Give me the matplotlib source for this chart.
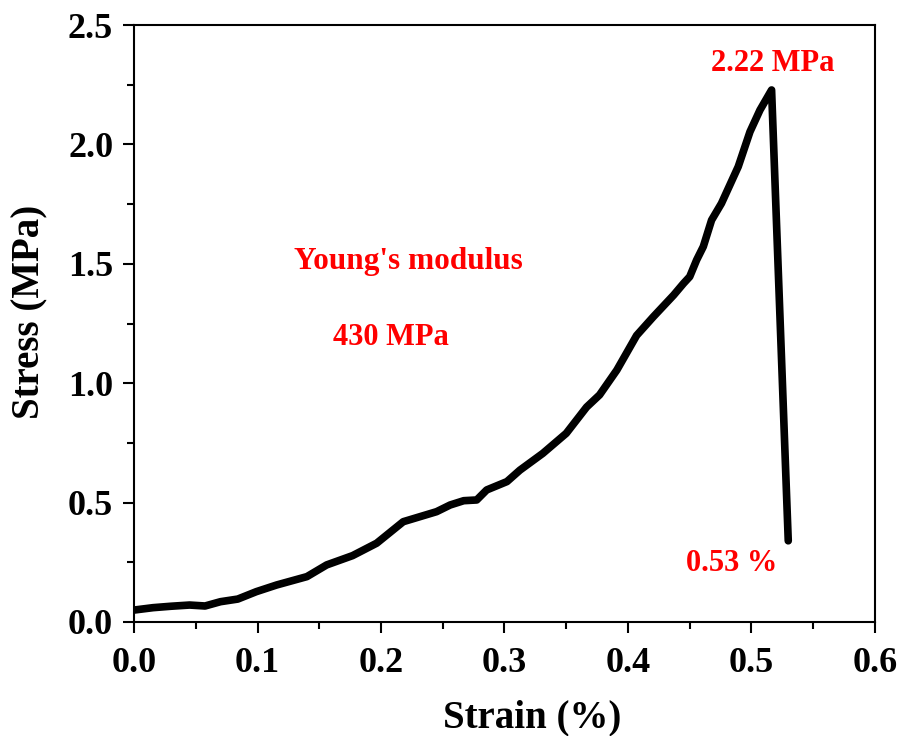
import matplotlib
matplotlib.use("Agg")
import matplotlib.pyplot as plt
from matplotlib.ticker import MultipleLocator

# stress-strain curve
strain = [0.0, 0.0154, 0.03, 0.045, 0.0575, 0.07, 0.084, 0.099, 0.1155, 0.14,
          0.156, 0.177, 0.1965, 0.218, 0.245, 0.256, 0.267, 0.2775, 0.2856, 0.302,
          0.3125, 0.331, 0.350, 0.3665, 0.377, 0.391, 0.407, 0.4205, 0.437, 0.445,
          0.450, 0.4556, 0.461, 0.4677, 0.4757, 0.4893, 0.4988, 0.5069, 0.5163, 0.5298]
stress = [0.05, 0.06, 0.066, 0.071, 0.067, 0.085, 0.096, 0.127, 0.155, 0.19,
          0.239, 0.278, 0.33, 0.42, 0.462, 0.49, 0.508, 0.511, 0.553, 0.588,
          0.636, 0.706, 0.790, 0.90, 0.951, 1.055, 1.20, 1.278, 1.369, 1.418,
          1.446, 1.516, 1.572, 1.683, 1.753, 1.907, 2.053, 2.144, 2.228, 0.34]

x_ticks = [0.0, 0.1, 0.2, 0.3, 0.4, 0.5, 0.6]
y_ticks = [0.0, 0.5, 1.0, 1.5, 2.0, 2.5]

plt.rcParams["font.family"] = ["Liberation Serif", "DejaVu Serif"]
plt.rcParams["font.weight"] = "bold"

fig = plt.figure(figsize=(9.02, 7.36), dpi=100)
ax = fig.add_axes([0.1486, 0.1549, 0.8214, 0.8111])

ax.plot(strain, stress, color="black", lw=5.5, solid_capstyle="round", solid_joinstyle="round")

ax.set_xlim(0, 0.6)
ax.set_ylim(0, 2.5)
ax.set_xticks(x_ticks)
ax.set_yticks(y_ticks)
ax.xaxis.set_minor_locator(MultipleLocator(0.05))
ax.yaxis.set_minor_locator(MultipleLocator(0.25))
ax.tick_params(which="both", direction="out", top=False, right=False, width=1.5, labelsize=26)
ax.tick_params(which="major", length=8)
ax.tick_params(which="minor", length=5)
ax.tick_params(axis="x", which="major", pad=10)
ax.tick_params(axis="y", which="major", pad=7)
for s in ax.spines.values():
    s.set_linewidth(1.5)

ax.set_xlabel("Strain (%)", fontsize=28, fontweight="bold")
ax.set_ylabel("Stress (MPa)", fontsize=28, fontweight="bold")
ax.xaxis.set_label_coords(0.537, -0.13)
ax.yaxis.set_label_coords(-0.116, 0.519)

red = "#ff0000"
ax.text(0.517, 2.337, "2.22 MPa", color=red, fontsize=22, fontweight="bold", ha="center", va="center")
ax.text(0.2225, 1.508, "Young's modulus", color=red, fontsize=22.5, fontweight="bold", ha="center", va="center")
ax.text(0.208, 1.19, "430 MPa", color=red, fontsize=22, fontweight="bold", ha="center", va="center")
ax.text(0.484, 0.247, "0.53 %", color=red, fontsize=22, fontweight="bold", ha="center", va="center")

fig.savefig("out.png", dpi=100)
